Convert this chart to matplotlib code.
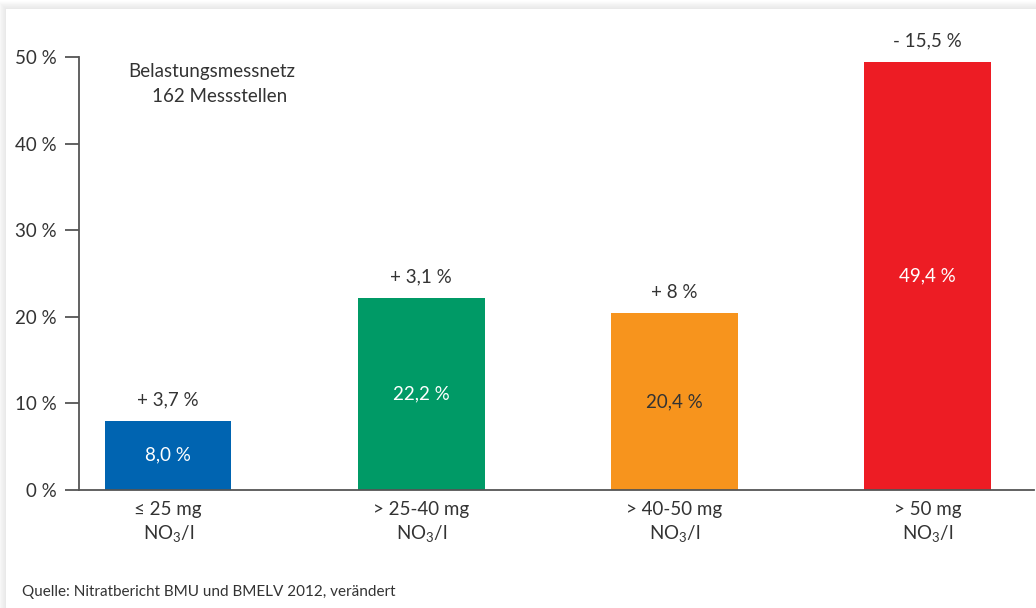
import numpy as np
import matplotlib
matplotlib.use('Agg')
import matplotlib.pyplot as plt

plt.rcParams['font.family'] = ['Lato', 'DejaVu Sans']
plt.rcParams['mathtext.fontset'] = 'custom'
plt.rcParams['mathtext.rm'] = 'Lato'
plt.rcParams['mathtext.default'] = 'regular'

# Nitrat-Belastungsmessnetz, Anteil der Messstellen je Klasse
categories = ['≤ 25 mg\n$\\mathregular{NO_3/l}$', '> 25-40 mg\n$\\mathregular{NO_3/l}$',
              '> 40-50 mg\n$\\mathregular{NO_3/l}$', '> 50 mg\n$\\mathregular{NO_3/l}$']
shares = [8.0, 22.2, 20.4, 49.4]
share_labels = ['8,0 %', '22,2 %', '20,4 %', '49,4 %']
changes = ['+ 3,7 %', '+ 3,1 %', '+ 8 %', '- 15,5 %']
yticks = [0, 10, 20, 30, 40, 50]
ytick_labels = ['0 %', '10 %', '20 %', '30 %', '40 %', '50 %']

colors = ['#0064b1', '#009a66', '#f7941d', '#ed1c24']
inner_text = ['white', 'white', '#333333', 'white']
txt = '#333333'
fs = 13.5

W, H = 1036, 608
fig = plt.figure(figsize=(W / 100, H / 100), dpi=100)
fig.patch.set_facecolor('white')

# soft shadow along the top and left edge of the white panel
bg = fig.add_axes([0, 0, 1, 1], zorder=-10)
yy, xx = np.mgrid[0:H, 0:W]
px, py = 6, 9
dist = np.maximum(px - xx, py - yy).clip(min=0).astype(float)
shade = np.where((xx < px) | (yy < py), 0.90 + 0.1 * dist / 9, 1.0)
shade = np.clip(shade, 0, 1)
bg.imshow(shade, cmap='gray', vmin=0, vmax=1, extent=[0, W, H, 0], aspect='auto')
bg.set_xlim(0, W)
bg.set_ylim(H, 0)
bg.axis('off')

ax = fig.add_axes([79 / W, 1 - 490 / H, (1034 - 79) / W, (490 - 57) / H])
ax.patch.set_alpha(0)

x = np.arange(len(shares))
bars = ax.bar(x, shares, width=0.5, color=colors, zorder=2)

ax.set_xlim(-0.352, 3.42)
ax.set_ylim(0, 50)
ax.set_yticks(yticks)
ax.set_yticklabels(ytick_labels)
ax.set_xticks(x)
ax.set_xticklabels(categories, linespacing=1.3)

for s in ['top', 'right']:
    ax.spines[s].set_visible(False)
for s in ['left', 'bottom']:
    ax.spines[s].set_color('#555555')
    ax.spines[s].set_linewidth(1.3)
ax.tick_params(axis='y', length=10, width=1.3, color='#555555', labelsize=fs,
               labelcolor=txt, pad=6)
ax.tick_params(axis='x', length=0, labelsize=fs, labelcolor=txt, pad=8)

for i, b in enumerate(bars):
    v = shares[i]
    ax.text(b.get_x() + b.get_width() / 2, v / 2, share_labels[i],
            ha='center', va='center', fontsize=fs, color=inner_text[i])
    ax.annotate(changes[i], (b.get_x() + b.get_width() / 2, v),
                xytext=(0, 15), textcoords='offset points',
                ha='center', va='center', fontsize=fs, color=txt)

fig.text(128 / W, 1 - 72 / H, 'Belastungsmessnetz', fontsize=fs, color=txt,
         va='center', ha='left')
fig.text(152 / W, 1 - 97 / H, '162 Messstellen', fontsize=fs, color=txt,
         va='center', ha='left')
fig.text(22 / W, 1 - 592 / H, 'Quelle: Nitratbericht BMU und BMELV 2012, verändert',
         fontsize=11, color=txt, va='center', ha='left')

fig.savefig('out.png', dpi=100)
